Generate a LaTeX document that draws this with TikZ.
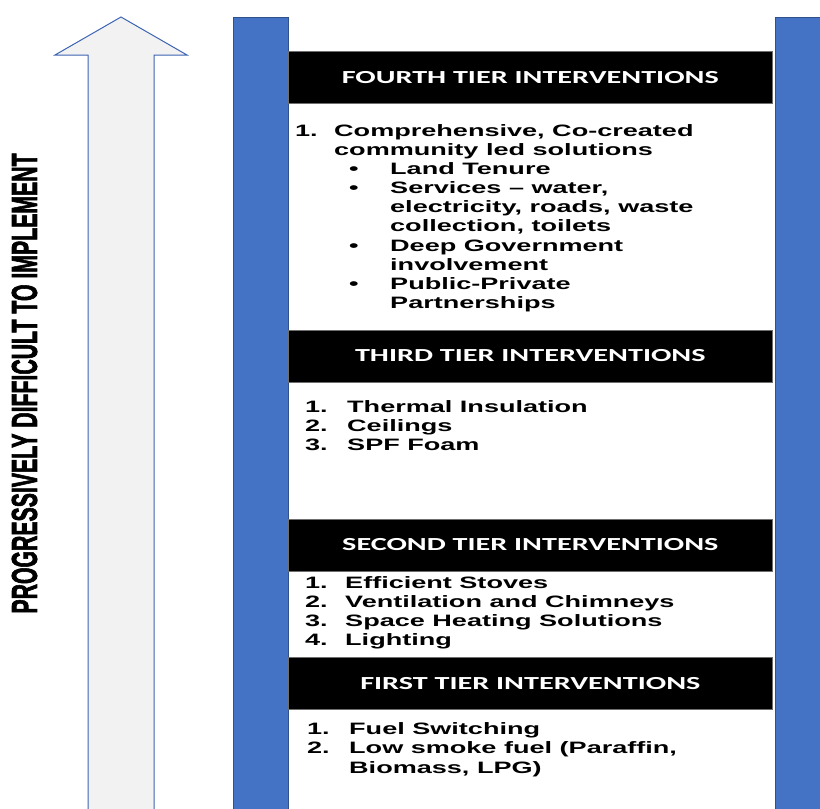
\documentclass[tikz,border=0pt]{standalone}
\usepackage{fontspec}
\usepackage{graphicx}
\setmainfont{Liberation Sans}
\newfontfamily\hdrfont{Carlito}
\newfontfamily\sidefont{Liberation Sans Bold}[FakeBold=2.5]
\definecolor{barblue}{RGB}{68,114,196}
\definecolor{bardark}{RGB}{47,82,143}
\definecolor{arrowline}{RGB}{60,100,180}
\definecolor{arrowfill}{RGB}{242,242,242}
\definecolor{hdrgray}{RGB}{110,110,110}
\newcommand\wtext[1]{\scalebox{1.64}[1]{#1}}
\newcommand\bodyline[4]{\node[body] (#1) at (#2,#3) {\wtext{#4}};}
\tikzset{
  body/.style={anchor=base west, inner sep=0pt, font=\fontsize{16.5}{19}\selectfont\bfseries, text=black},
  hdr/.style={anchor=north west, fill=black, draw=hdrgray, line width=0.6pt, minimum width=484pt, minimum height=52pt, inner sep=0pt, text=white, font=\hdrfont\fontsize{18.4}{20}\selectfont\bfseries},
  bluebar/.style={fill=barblue, draw=bardark, line width=0.6pt},
  arrowbody/.style={fill=arrowfill},
  arrowstroke/.style={draw=arrowline, line width=1pt, line join=miter}
}
\begin{document}
\begin{tikzpicture}[x=1pt,y=-1pt]
\useasboundingbox (0,0) rectangle (820,809);
\fill[white] (0,0) rectangle (820,809);
% arrow
\fill[arrowbody] (88,809) -- (88,55) -- (55,55) -- (121,17) -- (187,55) -- (154,55) -- (154,809) -- cycle;
\draw[arrowstroke] (88,810) -- (88,55) -- (55,55) -- (121,17) -- (187,55) -- (154,55) -- (154,810);
% side label
\node[rotate=90, inner sep=0pt] (side) at (24.5,383.5) {\resizebox{460pt}{25pt}{\sidefont PROGRESSIVELY DIFFICULT TO IMPLEMENT}};
% blue bars
\draw[bluebar] (233,17) rectangle (288,812);
\draw[bluebar] (775,17) rectangle (823,812);
% headers
\node[hdr] (h4) at (288,51) {\wtext{FOURTH TIER INTERVENTIONS}};
\node[hdr] (h3) at (288,329.5) {\wtext{THIRD TIER INTERVENTIONS}};
\node[hdr] (h2) at (288,518.5) {\wtext{SECOND TIER INTERVENTIONS}};
\node[hdr] (h1) at (288,657) {\wtext{FIRST TIER INTERVENTIONS}};
% fourth tier
\bodyline{a1n}{295}{136.5}{1.}
\bodyline{a1}{334}{136.5}{Comprehensive, Co-created}
\bodyline{a1b}{334}{155.5}{community led solutions}
\bodyline{a2n}{349}{174.5}{•}
\bodyline{a2}{390}{174.5}{Land Tenure}
\bodyline{a3n}{349}{193.5}{•}
\bodyline{a3}{390}{193.5}{Services – water,}
\bodyline{a3b}{390}{212.5}{electricity, roads, waste}
\bodyline{a3c}{390}{231.5}{collection, toilets}
\bodyline{a4n}{349}{251}{•}
\bodyline{a4}{390}{251}{Deep Government}
\bodyline{a4b}{390}{270}{involvement}
\bodyline{a5n}{349}{289}{•}
\bodyline{a5}{390}{289}{Public-Private}
\bodyline{a5b}{390}{308}{Partnerships}
% third tier
\bodyline{b1n}{305}{412}{1.}
\bodyline{b1}{347}{412}{Thermal Insulation}
\bodyline{b2n}{305}{431}{2.}
\bodyline{b2}{347}{431}{Ceilings}
\bodyline{b3n}{305}{450}{3.}
\bodyline{b3}{347}{450}{SPF Foam}
% second tier
\bodyline{c1n}{305}{588.5}{1.}
\bodyline{c1}{345}{588.5}{Efficient Stoves}
\bodyline{c2n}{305}{607.5}{2.}
\bodyline{c2}{345}{607.5}{Ventilation and Chimneys}
\bodyline{c3n}{305}{626.5}{3.}
\bodyline{c3}{345}{626.5}{Space Heating Solutions}
\bodyline{c4n}{305}{645.5}{4.}
\bodyline{c4}{345}{645.5}{Lighting}
% first tier
\bodyline{d1n}{307}{734}{1.}
\bodyline{d1}{349}{734}{Fuel Switching}
\bodyline{d2n}{307}{753.5}{2.}
\bodyline{d2}{349}{753.5}{Low smoke fuel (Paraffin,}
\bodyline{d2b}{349}{773}{Biomass, LPG)}
\end{tikzpicture}
\end{document}
